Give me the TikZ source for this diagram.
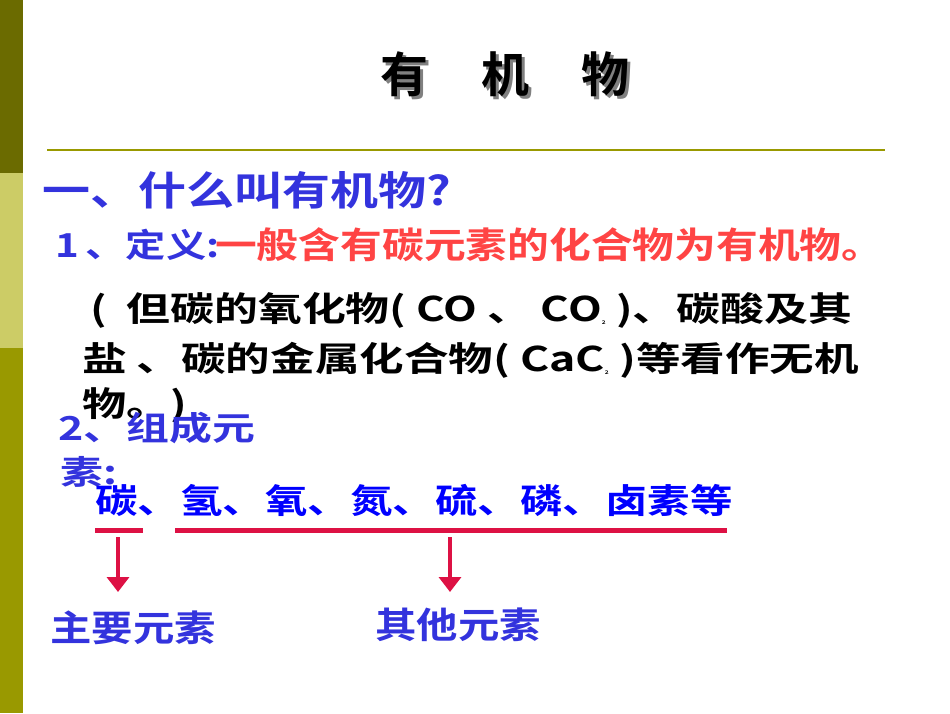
\documentclass[tikz,border=0pt]{standalone}
\usepackage{fontspec}
\usepackage{graphicx}
\setmainfont{Noto Sans CJK SC}[BoldFont={* Bold}]
\usetikzlibrary{arrows.meta}
\definecolor{bdark}{HTML}{6B6B00}
\definecolor{blight}{HTML}{CCCC66}
\definecolor{bolive}{HTML}{999900}
\definecolor{tblue}{HTML}{3333DD}
\definecolor{tred}{HTML}{FF4444}
\definecolor{lred}{HTML}{DD1144}
\tikzset{
 t/.style={anchor=west,inner sep=0pt,font=\bfseries},
 uline/.style={lred,line width=5pt},
 arr/.style={lred,line width=3.5pt,-{Triangle[length=15pt,width=22pt]}}
}
\newcommand{\fs}[1]{\fontsize{#1}{#1}\selectfont\bfseries}
\begin{document}
\begin{tikzpicture}[x=1pt,y=-1pt]
\useasboundingbox (0,0) rectangle (950,713);
\fill[bdark] (0,0) rectangle (23,173);
\fill[blight] (0,173) rectangle (23,348);
\fill[bolive] (0,348) rectangle (23,713);
\draw[bolive,line width=1.5pt] (47,150) -- (885,150);
\node[t,font=\fs{48},text=black!50,xshift=3pt,yshift=-3pt] at (380,74) {有\hspace{1.1em}机\hspace{1.1em}物};
\node[t,font=\fs{48}] (title) at (380,74) {有\hspace{1.1em}机\hspace{1.1em}物};
\node[t,text=tblue,font=\fs{40}] (q) at (42,190) {\scalebox{1.2}[1]{一、什么叫有机物?}};
\node[t,text=tblue,font=\fs{33}] (def) at (55,245) {\scalebox{1.22}[1]{1\,、定义:}};
\node[t,text=tred,font=\fs{36}] (defr) at (215,245) {\scalebox{1.16}[1]{一般含有碳元素的化合物为有机物。}};
\node[t,font=\fs{34}] (l1) at (90,310) {\scalebox{1.29}[1]{(\ \ 但碳的氧化物( CO 、 CO\textsubscript{\tiny 2} )、碳酸及其}};
\node[t,font=\fs{34}] (l2) at (82,360) {\scalebox{1.31}[1]{盐 、碳的金属化合物( CaC\textsubscript{\tiny 2} )等看作无机}};
\node[t,font=\fs{34}] (l3) at (82,405) {\scalebox{1.3}[1]{物。)}};
\node[t,text=tblue,font=\fs{33}] (c2) at (58,428) {\scalebox{1.3}[1]{2、组成元}};
\node[t,text=tblue,font=\fs{33}] (c2b) at (60,472) {\scalebox{1.3}[1]{素:}};
\node[t,text=blue,font=\fs{34}] (el) at (95,500) {\scalebox{1.25}[1]{碳、氢、氧、氮、硫、磷、卤素等}};
\coordinate (u1a) at (95,530); \coordinate (u1b) at (143,530);
\coordinate (u2a) at (175,530); \coordinate (u2b) at (727,530);
\draw[uline] (u1a) -- (u1b);
\draw[uline] (u2a) -- (u2b);
\node[t,text=tblue,font=\fs{36}] (main) at (50,628) {\scalebox{1.15}[1]{主要元素}};
\node[t,text=tblue,font=\fs{36}] (other) at (375,625) {\scalebox{1.15}[1]{其他元素}};
\coordinate (a1) at (118,537); \coordinate (a2) at (450,537);
\coordinate (b1) at (118,592); \coordinate (b2) at (450,592);
\draw[arr] (a1) -- (b1);
\draw[arr] (a2) -- (b2);
\end{tikzpicture}
\end{document}
